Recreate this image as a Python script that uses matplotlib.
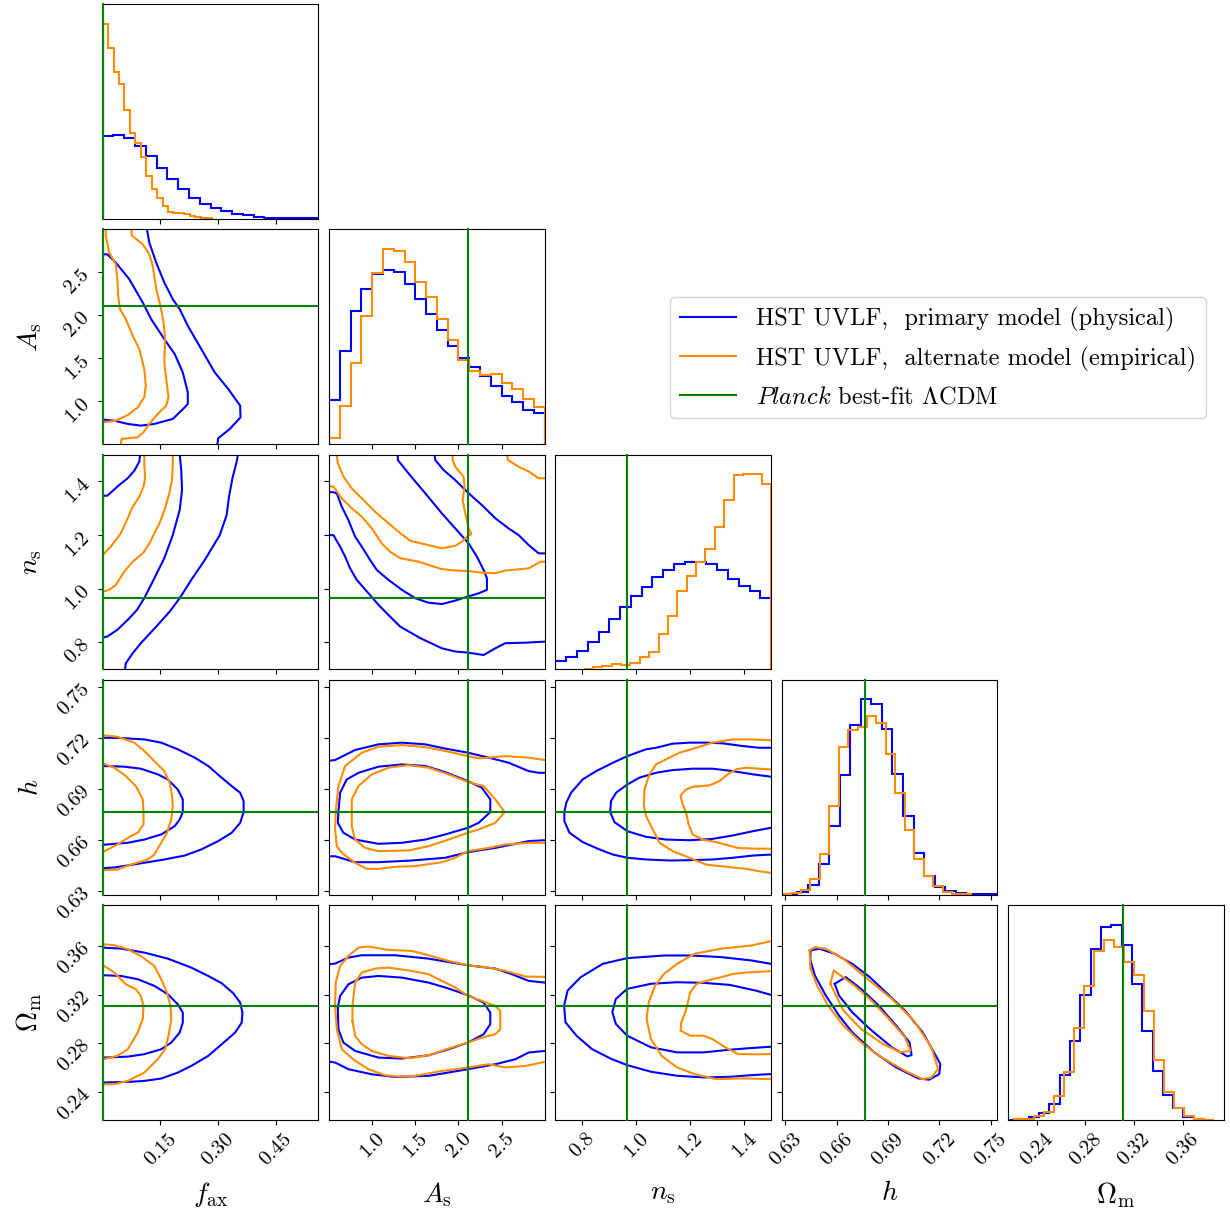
import matplotlib
matplotlib.use("Agg")
from matplotlib import pyplot as plt
from matplotlib.lines import Line2D
from matplotlib.ticker import FormatStrFormatter
import numpy as np

plt.rcParams['font.family'] = 'serif'
plt.rcParams['font.serif'] = ['cmr10']
plt.rcParams['mathtext.fontset'] = 'cm'
plt.rcParams['axes.formatter.use_mathtext'] = True

# parameters: f_ax, A_s, n_s, h, Omega_m
labels = [r'$f_{\rm ax}$', r'$A_{\rm s}$', r'$n_{\rm s}$', r'$h$', r'$\Omega_{\rm m}$']
limits = [(0.0, 0.56), (0.5, 3.0), (0.7, 1.5), (0.628, 0.754), (0.2166, 0.394)]
ticks = [[0.15, 0.30, 0.45], [1.0, 1.5, 2.0, 2.5], [0.8, 1.0, 1.2, 1.4],
         [0.63, 0.66, 0.69, 0.72, 0.75], [0.24, 0.28, 0.32, 0.36]]
tick_fmt = ['%.2f', '%.1f', '%.1f', '%.2f', '%.2f']
planck = [0.0, 2.105, 0.9649, 0.6766, 0.3111]

col_phys = 'blue'
col_alt = 'darkorange'
col_planck = 'green'

# 1D marginals (20 bins each, range = sample min/max)
range_phys = [(0.0, 0.56), (0.5, 3.0), (0.7, 1.5), (0.6309, 0.7544), (0.2166, 0.3862)]
range_alt = [(0.0, 0.2826), (0.5, 3.0), (0.804, 1.5), (0.628, 0.7386), (0.2213, 0.3857)]

hist_phys_fax = [250, 253, 242, 217, 188, 151, 120, 90, 61, 44, 31, 22, 15, 10, 5, 3, 1, 1, 0.5, 0.5]
hist_alt_fax = [587, 512, 442, 404, 327, 258, 228, 185, 129, 89, 63, 39, 19, 17, 18, 14, 7, 4, 3, 2]
hist_phys_As = [132, 279, 398, 462, 507, 519, 513, 477, 433, 388, 341, 293, 258, 229, 202, 172, 143, 124, 100, 92]
hist_alt_As = [18, 112, 242, 383, 512, 583, 578, 543, 485, 438, 373, 312, 252, 217, 205, 209, 181, 164, 134, 110]
hist_phys_ns = [25, 38, 55, 83, 111, 152, 187, 219, 248, 277, 299, 315, 321, 321, 315, 297, 272, 249, 234, 214]
hist_alt_ns = [2, 7, 11, 15, 13, 18, 36, 53, 105, 161, 234, 281, 323, 360, 428, 507, 582, 584, 585, 556]
hist_phys_h = [1, 7, 29, 92, 205, 359, 507, 585, 572, 495, 363, 235, 125, 55, 23, 10, 4, 2, 1, 0.5]
hist_alt_h = [1, 5, 15, 48, 123, 267, 443, 493, 502, 535, 515, 421, 305, 195, 108, 55, 25, 8, 3, 1]
hist_phys_Om = [0.5, 3, 8, 20, 47, 135, 237, 375, 512, 577, 584, 524, 407, 267, 147, 75, 37, 10, 4, 1]
hist_alt_Om = [2, 4, 12, 25, 72, 142, 274, 400, 507, 539, 519, 472, 435, 325, 179, 82, 37, 12, 4, 1]

hist_phys = [hist_phys_fax, hist_phys_As, hist_phys_ns, hist_phys_h, hist_phys_Om]
hist_alt = [hist_alt_fax, hist_alt_As, hist_alt_ns, hist_alt_h, hist_alt_Om]

# 2D credible contours (68% / 95%), traced as (x, y) polylines
fax_As_phys = [
    [(0.115, 3.0), (0.121, 2.845), (0.139, 2.612), (0.160, 2.380), (0.182, 2.186), (0.200, 2.070),
     (0.221, 1.876), (0.256, 1.605), (0.291, 1.333), (0.326, 1.140), (0.357, 0.946), (0.358, 0.810),
     (0.330, 0.674), (0.300, 0.566), (0.298, 0.5)],
    [(0, 2.709), (0.012, 2.709), (0.034, 2.612), (0.069, 2.419), (0.104, 2.147), (0.126, 1.953),
     (0.160, 1.721), (0.187, 1.547), (0.208, 1.333), (0.221, 1.101), (0.221, 0.965), (0.213, 0.926),
     (0.182, 0.791), (0.134, 0.733), (0.099, 0.713), (0.065, 0.733), (0.030, 0.771), (0, 0.783)]]
fax_As_alt = [
    [(0.075, 3.0), (0.075, 2.930), (0.104, 2.826), (0.121, 2.709), (0.130, 2.574), (0.139, 2.302),
     (0.150, 2.109), (0.158, 1.915), (0.162, 1.721), (0.160, 1.450), (0.166, 1.217), (0.171, 1.043),
     (0.165, 0.946), (0.143, 0.849), (0.121, 0.733), (0.106, 0.636), (0.091, 0.578), (0.049, 0.558),
     (0.047, 0.5)],
    [(0.008, 3.0), (0.008, 2.922), (0.017, 2.729), (0.034, 2.593), (0.038, 2.419), (0.040, 2.225),
     (0.045, 2.070), (0.060, 1.953), (0.078, 1.760), (0.095, 1.605), (0.108, 1.372), (0.112, 1.178),
     (0.108, 1.043), (0.091, 0.926), (0.065, 0.837), (0.034, 0.771), (0, 0.752)]]

fax_ns_phys = [
    [(0, 1.347), (0.012, 1.347), (0.043, 1.387), (0.065, 1.412), (0.082, 1.440), (0.095, 1.474), (0.097, 1.5)],
    [(0, 0.818), (0.012, 0.822), (0.038, 0.847), (0.065, 0.884), (0.089, 0.921), (0.108, 0.965),
     (0.134, 1.039), (0.160, 1.114), (0.182, 1.200), (0.200, 1.294), (0.206, 1.368), (0.204, 1.443),
     (0.200, 1.5)],
    [(0.058, 0.7), (0.060, 0.722), (0.078, 0.760), (0.099, 0.797), (0.139, 0.859), (0.174, 0.915),
     (0.200, 0.965), (0.230, 1.033), (0.265, 1.107), (0.304, 1.200), (0.322, 1.275), (0.328, 1.343),
     (0.337, 1.412), (0.348, 1.474), (0.351, 1.5)]]
fax_ns_alt = [
    [(0, 0.989), (0.017, 0.996), (0.034, 1.014), (0.056, 1.064), (0.078, 1.101), (0.106, 1.135),
     (0.124, 1.176), (0.136, 1.213), (0.147, 1.242), (0.162, 1.300), (0.174, 1.362), (0.180, 1.406),
     (0.182, 1.468), (0.182, 1.5)],
    [(0, 1.126), (0.021, 1.157), (0.047, 1.207), (0.065, 1.263), (0.078, 1.306), (0.095, 1.343),
     (0.106, 1.381), (0.110, 1.412), (0.108, 1.468), (0.108, 1.5)]]

As_ns_phys = [
    [(1.723, 1.5), (1.731, 1.480), (1.827, 1.443), (1.963, 1.405), (2.118, 1.356), (2.272, 1.312),
     (2.427, 1.263), (2.582, 1.225), (2.698, 1.200), (2.814, 1.163), (2.930, 1.132), (3.0, 1.132)],
    [(1.297, 1.5), (1.297, 1.480), (1.421, 1.430), (1.615, 1.356), (1.808, 1.281), (1.963, 1.225),
     (2.118, 1.169), (2.214, 1.120), (2.292, 1.070), (2.330, 1.039), (2.330, 0.996), (2.234, 0.983),
     (2.110, 0.971), (1.963, 0.956), (1.808, 0.943), (1.653, 0.948), (1.498, 0.965), (1.344, 0.996),
     (1.189, 1.033), (1.053, 1.070), (0.976, 1.107), (0.879, 1.157), (0.802, 1.194), (0.724, 1.256),
     (0.647, 1.306), (0.589, 1.356), (0.550, 1.360), (0.5, 1.360)],
    [(0.5, 1.200), (0.550, 1.200), (0.628, 1.157), (0.686, 1.120), (0.744, 1.076), (0.821, 1.033),
     (0.957, 0.983), (1.073, 0.940), (1.189, 0.902), (1.324, 0.859), (1.557, 0.816), (1.808, 0.778),
     (1.963, 0.766), (2.110, 0.762), (2.292, 0.753), (2.427, 0.778), (2.543, 0.797), (2.776, 0.799),
     (3.0, 0.803)]]
As_ns_alt = [
    [(0.589, 1.5), (0.601, 1.468), (0.666, 1.418), (0.763, 1.374), (0.879, 1.337), (1.034, 1.287),
     (1.189, 1.244), (1.305, 1.213), (1.440, 1.179), (1.595, 1.167), (1.808, 1.151), (1.963, 1.160),
     (2.040, 1.176), (2.098, 1.194), (2.149, 1.204), (2.118, 1.225), (2.079, 1.281), (2.048, 1.331),
     (2.071, 1.381), (2.060, 1.418), (1.963, 1.455), (1.932, 1.480), (1.932, 1.5)],
    [(0.5, 1.383), (0.550, 1.381), (0.647, 1.337), (0.763, 1.300), (0.879, 1.269), (0.995, 1.225),
     (1.111, 1.169), (1.208, 1.138), (1.324, 1.114), (1.537, 1.101), (1.653, 1.089), (1.808, 1.073),
     (1.963, 1.068), (2.110, 1.066), (2.272, 1.060), (2.427, 1.058), (2.543, 1.068), (2.814, 1.076),
     (2.950, 1.101), (3.0, 1.101)],
    [(2.563, 1.5), (2.574, 1.480), (2.698, 1.455), (2.814, 1.437), (2.930, 1.412), (3.0, 1.412)]]

fax_h_phys = [
    [(0, 0.7201), (0.047, 0.7199), (0.108, 0.7191), (0.152, 0.7172), (0.195, 0.7133), (0.239, 0.7084),
     (0.274, 0.7035), (0.309, 0.6966), (0.335, 0.6917), (0.357, 0.6878), (0.366, 0.6829), (0.366, 0.6764),
     (0.357, 0.6701), (0.335, 0.6643), (0.300, 0.6594), (0.256, 0.6545), (0.213, 0.6509), (0.160, 0.6486),
     (0.117, 0.6470), (0.065, 0.6451), (0.030, 0.6439), (0, 0.6435)],
    [(0, 0.7035), (0.056, 0.7031), (0.099, 0.7019), (0.143, 0.6986), (0.169, 0.6956), (0.195, 0.6897),
     (0.208, 0.6839), (0.208, 0.6764), (0.200, 0.6721), (0.187, 0.6682), (0.152, 0.6633), (0.108, 0.6603),
     (0.065, 0.6584), (0, 0.6572)]]
fax_h_alt = [
    [(0, 0.7215), (0.038, 0.7207), (0.082, 0.7172), (0.108, 0.7123), (0.134, 0.7064), (0.160, 0.7005),
     (0.174, 0.6937), (0.180, 0.6858), (0.182, 0.6799), (0.178, 0.6721), (0.167, 0.6643), (0.152, 0.6584),
     (0.134, 0.6515), (0.117, 0.6486), (0.073, 0.6456), (0.038, 0.6427), (0, 0.6423)],
    [(0, 0.7050), (0.030, 0.7025), (0.060, 0.6976), (0.086, 0.6917), (0.104, 0.6839), (0.106, 0.6764),
     (0.106, 0.6692), (0.091, 0.6643), (0.073, 0.6623), (0.038, 0.6574), (0, 0.6529)]]

As_h_phys = [
    [(0.5, 0.7066), (0.570, 0.7070), (0.802, 0.7129), (1.073, 0.7162), (1.344, 0.7172), (1.615, 0.7162),
     (1.847, 0.7137), (2.110, 0.7113), (2.350, 0.7084), (2.582, 0.7054), (2.814, 0.7005), (2.930, 0.6995),
     (3.0, 0.6995)],
    [(0.5, 0.6505), (0.570, 0.6505), (0.802, 0.6470), (1.073, 0.6470), (1.460, 0.6480), (1.847, 0.6496),
     (2.110, 0.6529), (2.427, 0.6554), (2.814, 0.6594), (3.0, 0.6599)],
    [(0.608, 0.6764), (0.628, 0.6878), (0.705, 0.6956), (0.841, 0.6995), (1.073, 0.7031), (1.344, 0.7044),
     (1.615, 0.7035), (1.847, 0.6999), (2.110, 0.6946), (2.272, 0.6907), (2.369, 0.6839), (2.369, 0.6764),
     (2.234, 0.6701), (2.110, 0.6672), (1.847, 0.6633), (1.615, 0.6603), (1.344, 0.6584), (1.073, 0.6578),
     (0.802, 0.6603), (0.666, 0.6643), (0.601, 0.6701), (0.608, 0.6764)]]
As_h_alt = [
    [(3.0, 0.7070), (2.814, 0.7084), (2.543, 0.7093), (2.350, 0.7084), (2.234, 0.7080), (2.110, 0.7093),
     (1.847, 0.7123), (1.615, 0.7146), (1.344, 0.7158), (1.073, 0.7148), (0.879, 0.7113), (0.686, 0.7035),
     (0.608, 0.6917), (0.577, 0.6764), (0.570, 0.6662), (0.589, 0.6564), (0.647, 0.6525), (0.802, 0.6466),
     (0.937, 0.6431), (1.073, 0.6431), (1.266, 0.6443), (1.498, 0.6447), (1.808, 0.6470), (1.963, 0.6496),
     (2.110, 0.6535), (2.350, 0.6554), (2.543, 0.6574), (2.814, 0.6584), (3.0, 0.6584)],
    [(0.763, 0.6764), (0.763, 0.6839), (0.841, 0.6917), (0.995, 0.6986), (1.189, 0.7025), (1.421, 0.7040),
     (1.653, 0.7025), (1.885, 0.6986), (2.110, 0.6941), (2.292, 0.6917), (2.427, 0.6839), (2.536, 0.6764),
     (2.427, 0.6701), (2.234, 0.6662), (2.110, 0.6643), (1.885, 0.6603), (1.653, 0.6564), (1.421, 0.6539),
     (1.073, 0.6535), (0.918, 0.6554), (0.802, 0.6603), (0.763, 0.6682), (0.763, 0.6764)]]

ns_h_phys = [
    [(1.5, 0.7142), (1.456, 0.7142), (1.395, 0.7152), (1.320, 0.7168), (1.259, 0.7172), (1.197, 0.7172),
     (1.135, 0.7166), (1.073, 0.7142), (1.036, 0.7133), (0.967, 0.7093), (0.913, 0.7054), (0.851, 0.7005),
     (0.801, 0.6956), (0.758, 0.6878), (0.740, 0.6819), (0.733, 0.6764), (0.733, 0.6711), (0.752, 0.6643),
     (0.801, 0.6588), (0.863, 0.6545), (0.913, 0.6515), (0.967, 0.6496), (1.036, 0.6486), (1.123, 0.6480),
     (1.197, 0.6482), (1.283, 0.6486), (1.358, 0.6496), (1.432, 0.6509), (1.5, 0.6515)],
    [(1.5, 0.6972), (1.432, 0.6986), (1.358, 0.7005), (1.283, 0.7019), (1.209, 0.7019), (1.135, 0.7011),
     (1.073, 0.6995), (1.011, 0.6966), (0.967, 0.6927), (0.925, 0.6878), (0.906, 0.6829), (0.903, 0.6764),
     (0.919, 0.6705), (0.967, 0.6652), (1.036, 0.6619), (1.110, 0.6603), (1.197, 0.6599), (1.283, 0.6607),
     (1.358, 0.6627), (1.432, 0.6652), (1.5, 0.6672)]]
ns_h_alt = [
    [(1.5, 0.7186), (1.432, 0.7191), (1.358, 0.7191), (1.283, 0.7172), (1.222, 0.7142), (1.160, 0.7113),
     (1.110, 0.7074), (1.073, 0.7044), (1.049, 0.6986), (1.030, 0.6897), (1.028, 0.6803), (1.036, 0.6741),
     (1.061, 0.6662), (1.086, 0.6584), (1.135, 0.6535), (1.197, 0.6496), (1.259, 0.6456), (1.333, 0.6443),
     (1.407, 0.6431), (1.456, 0.6417), (1.5, 0.6407)],
    [(1.5, 0.7015), (1.456, 0.7019), (1.407, 0.7025), (1.370, 0.7015), (1.339, 0.6986), (1.308, 0.6946),
     (1.271, 0.6921), (1.209, 0.6913), (1.185, 0.6897), (1.164, 0.6862), (1.172, 0.6809), (1.185, 0.6760),
     (1.194, 0.6692), (1.209, 0.6633), (1.246, 0.6603), (1.296, 0.6588), (1.376, 0.6554), (1.432, 0.6550),
     (1.5, 0.6549)]]

fax_Om_phys = [
    [(0, 0.3590), (0.047, 0.3582), (0.108, 0.3549), (0.169, 0.3499), (0.230, 0.3425), (0.274, 0.3356),
     (0.309, 0.3296), (0.339, 0.3213), (0.357, 0.3136), (0.363, 0.3053), (0.361, 0.2970), (0.344, 0.2888),
     (0.309, 0.2791), (0.274, 0.2695), (0.230, 0.2612), (0.195, 0.2557), (0.152, 0.2508), (0.108, 0.2488),
     (0.065, 0.2480), (0, 0.2475)],
    [(0, 0.3362), (0.047, 0.3356), (0.091, 0.3329), (0.134, 0.3274), (0.169, 0.3205), (0.195, 0.3122),
     (0.208, 0.3053), (0.208, 0.2970), (0.200, 0.2888), (0.178, 0.2805), (0.152, 0.2750), (0.108, 0.2709),
     (0.065, 0.2689), (0, 0.2681)]]
fax_Om_alt = [
    [(0, 0.3618), (0.030, 0.3610), (0.065, 0.3577), (0.099, 0.3521), (0.134, 0.3439), (0.152, 0.3329),
     (0.167, 0.3218), (0.176, 0.3108), (0.178, 0.2998), (0.171, 0.2860), (0.162, 0.2750), (0.143, 0.2667),
     (0.108, 0.2557), (0.065, 0.2488), (0.030, 0.2461), (0, 0.2461)],
    [(0, 0.3447), (0.030, 0.3384), (0.060, 0.3287), (0.086, 0.3246), (0.099, 0.3191), (0.106, 0.3108),
     (0.104, 0.2998), (0.091, 0.2888), (0.065, 0.2750), (0.038, 0.2695), (0, 0.2667)]]

As_Om_phys = [
    [(0.5, 0.3453), (0.570, 0.3458), (0.724, 0.3508), (0.879, 0.3527), (1.266, 0.3527), (1.653, 0.3499),
     (2.110, 0.3444), (2.427, 0.3417), (2.621, 0.3370), (2.814, 0.3315), (3.0, 0.3301)],
    [(0.5, 0.2648), (0.570, 0.2640), (0.724, 0.2585), (0.995, 0.2543), (1.266, 0.2521), (1.653, 0.2530),
     (2.110, 0.2585), (2.427, 0.2626), (2.659, 0.2667), (2.814, 0.2723), (3.0, 0.2736)],
    [(0.601, 0.3094), (0.628, 0.3191), (0.724, 0.3287), (0.879, 0.3342), (1.073, 0.3356), (1.344, 0.3342),
     (1.653, 0.3301), (1.885, 0.3252), (2.110, 0.3196), (2.292, 0.3136), (2.369, 0.3053), (2.369, 0.2957),
     (2.292, 0.2874), (2.110, 0.2805), (1.885, 0.2750), (1.653, 0.2700), (1.344, 0.2673), (1.073, 0.2681),
     (0.802, 0.2736), (0.666, 0.2805), (0.608, 0.2915), (0.601, 0.3094)]]
As_Om_alt = [
    [(3.0, 0.3348), (2.776, 0.3351), (2.543, 0.3398), (2.350, 0.3425), (2.110, 0.3444), (1.885, 0.3480),
     (1.653, 0.3527), (1.460, 0.3563), (1.189, 0.3571), (0.957, 0.3599), (0.841, 0.3590), (0.724, 0.3521),
     (0.628, 0.3439), (0.577, 0.3301), (0.570, 0.3108), (0.589, 0.2915), (0.647, 0.2750), (0.802, 0.2654),
     (0.957, 0.2585), (1.150, 0.2535), (1.305, 0.2524), (1.498, 0.2530), (1.808, 0.2571), (1.963, 0.2585),
     (2.110, 0.2599), (2.350, 0.2626), (2.543, 0.2599), (2.776, 0.2612), (3.0, 0.2645)],
    [(0.771, 0.2984), (0.771, 0.3108), (0.802, 0.3301), (0.879, 0.3384), (1.034, 0.3417), (1.189, 0.3425),
     (1.460, 0.3397), (1.653, 0.3370), (1.808, 0.3315), (1.963, 0.3260), (2.110, 0.3191), (2.272, 0.3150),
     (2.427, 0.3108), (2.485, 0.3067), (2.485, 0.2915), (2.427, 0.2874), (2.272, 0.2846), (2.110, 0.2805),
     (1.885, 0.2756), (1.653, 0.2700), (1.421, 0.2676), (1.189, 0.2695), (0.995, 0.2736), (0.879, 0.2791),
     (0.802, 0.2860), (0.771, 0.2984)]]

ns_Om_phys = [
    [(1.5, 0.3456), (1.427, 0.3484), (1.314, 0.3512), (1.200, 0.3525), (1.103, 0.3525), (0.966, 0.3503),
     (0.875, 0.3456), (0.794, 0.3346), (0.745, 0.3235), (0.732, 0.3111), (0.737, 0.2973), (0.778, 0.2862),
     (0.835, 0.2752), (0.908, 0.2669), (0.966, 0.2619), (1.054, 0.2564), (1.151, 0.2531), (1.249, 0.2517),
     (1.346, 0.2522), (1.427, 0.2536), (1.5, 0.2545)],
    [(1.5, 0.3199), (1.443, 0.3235), (1.346, 0.3282), (1.249, 0.3299), (1.151, 0.3304), (1.054, 0.3291),
     (0.966, 0.3249), (0.924, 0.3166), (0.911, 0.3056), (0.924, 0.2959), (0.966, 0.2862), (1.054, 0.2766),
     (1.151, 0.2724), (1.249, 0.2724), (1.346, 0.2746), (1.427, 0.2760), (1.5, 0.2771)]]
ns_Om_alt = [
    [(1.5, 0.3644), (1.427, 0.3608), (1.314, 0.3581), (1.216, 0.3539), (1.151, 0.3456), (1.103, 0.3373),
     (1.070, 0.3277), (1.046, 0.3139), (1.038, 0.3000), (1.054, 0.2835), (1.094, 0.2696), (1.151, 0.2600),
     (1.216, 0.2545), (1.297, 0.2503), (1.395, 0.2509), (1.5, 0.2503)],
    [(1.5, 0.3396), (1.427, 0.3387), (1.362, 0.3374), (1.314, 0.3346), (1.265, 0.3318), (1.224, 0.3291),
     (1.200, 0.3221), (1.184, 0.3070), (1.167, 0.2973), (1.164, 0.2904), (1.200, 0.2862), (1.249, 0.2862),
     (1.281, 0.2835), (1.330, 0.2766), (1.378, 0.2710), (1.443, 0.2708), (1.5, 0.2710)]]

h_Om_phys = [
    [(0.6447, 0.3567), (0.6499, 0.3581), (0.6589, 0.3539), (0.6691, 0.3456), (0.6794, 0.3346),
     (0.6897, 0.3208), (0.7000, 0.3069), (0.7103, 0.2890), (0.7180, 0.2696), (0.7206, 0.2627),
     (0.7200, 0.2545), (0.7141, 0.2498), (0.7077, 0.2509), (0.6948, 0.2600), (0.6820, 0.2724),
     (0.6691, 0.2890), (0.6614, 0.3028), (0.6537, 0.3194), (0.6473, 0.3360), (0.6447, 0.3484),
     (0.6447, 0.3567)],
    [(0.6589, 0.3291), (0.6653, 0.3346), (0.6743, 0.3249), (0.6846, 0.3111), (0.6948, 0.2945),
     (0.7026, 0.2807), (0.7038, 0.2702), (0.7013, 0.2691), (0.6923, 0.2766), (0.6794, 0.2918),
     (0.6691, 0.3056), (0.6614, 0.3194), (0.6589, 0.3291)]]
h_Om_alt = [
    [(0.6442, 0.3567), (0.6473, 0.3594), (0.6537, 0.3581), (0.6640, 0.3498), (0.6768, 0.3346),
     (0.6923, 0.3166), (0.7051, 0.2987), (0.7154, 0.2766), (0.7193, 0.2586), (0.7154, 0.2517),
     (0.7103, 0.2503), (0.7000, 0.2572), (0.6846, 0.2696), (0.6743, 0.2807), (0.6640, 0.2945),
     (0.6550, 0.3111), (0.6486, 0.3277), (0.6447, 0.3415), (0.6442, 0.3567)],
    [(0.6563, 0.3291), (0.6583, 0.3401), (0.6691, 0.3291), (0.6794, 0.3166), (0.6897, 0.3014),
     (0.7000, 0.2848), (0.7031, 0.2738), (0.6974, 0.2724), (0.6871, 0.2793), (0.6743, 0.2918),
     (0.6640, 0.3070), (0.6563, 0.3291)]]

contours = {
    (1, 0): (fax_As_phys, fax_As_alt),
    (2, 0): (fax_ns_phys, fax_ns_alt),
    (2, 1): (As_ns_phys, As_ns_alt),
    (3, 0): (fax_h_phys, fax_h_alt),
    (3, 1): (As_h_phys, As_h_alt),
    (3, 2): (ns_h_phys, ns_h_alt),
    (4, 0): (fax_Om_phys, fax_Om_alt),
    (4, 1): (As_Om_phys, As_Om_alt),
    (4, 2): (ns_Om_phys, ns_Om_alt),
    (4, 3): (h_Om_phys, h_Om_alt),
}

lw = 1.5
n = len(labels)
fig, axes = plt.subplots(n, n, figsize=(12.3, 12.12), dpi=100)
fig.subplots_adjust(left=0.0835, right=0.995, bottom=0.076, top=0.9967, wspace=0.05, hspace=0.05)

for i in range(n):
    for j in range(n):
        ax = axes[i, j]
        if j > i:
            ax.set_axis_off()
            continue

        ax.set_xlim(limits[j])
        ax.set_xticks(ticks[j])
        ax.xaxis.set_major_formatter(FormatStrFormatter(tick_fmt[j]))

        if i == j:
            # marginal histograms
            e1 = np.linspace(range_phys[i][0], range_phys[i][1], len(hist_phys[i]) + 1)
            e2 = np.linspace(range_alt[i][0], range_alt[i][1], len(hist_alt[i]) + 1)
            ax.stairs(hist_phys[i], e1, color=col_phys, lw=lw)
            ax.stairs(hist_alt[i], e2, color=col_alt, lw=lw)
            ax.set_ylim(0, 1.1 * max(max(hist_phys[i]), max(hist_alt[i])))
            ax.set_yticks([])
            ax.axvline(planck[i], color=col_planck, lw=lw, zorder=3, clip_on=False)
        else:
            phys, alt = contours[(i, j)]
            for pts in phys:
                xs, ys = zip(*pts)
                ax.plot(xs, ys, color=col_phys, lw=lw)
            for pts in alt:
                xs, ys = zip(*pts)
                ax.plot(xs, ys, color=col_alt, lw=lw)
            ax.set_ylim(limits[i])
            ax.set_yticks(ticks[i])
            ax.yaxis.set_major_formatter(FormatStrFormatter(tick_fmt[i]))
            ax.axvline(planck[j], color=col_planck, lw=lw, zorder=3, clip_on=False)
            ax.axhline(planck[i], color=col_planck, lw=lw, zorder=3)
            if j == 0:
                for t in ax.get_yticklabels():
                    t.set_rotation(45)
                    t.set_fontsize(15)
                ax.set_ylabel(labels[i], fontsize=20)
                ax.yaxis.set_label_coords(-0.27, 0.5)
            else:
                ax.set_yticklabels([])

        if i == n - 1:
            for t in ax.get_xticklabels():
                t.set_rotation(45)
                t.set_fontsize(15)
            ax.set_xlabel(labels[j], fontsize=20)
            ax.xaxis.set_label_coords(0.5, -0.28)
        else:
            ax.set_xticklabels([])

handles = [Line2D([], [], color=col_phys, lw=lw),
           Line2D([], [], color=col_alt, lw=lw),
           Line2D([], [], color=col_planck, lw=lw)]
legend_labels = [r'HST UVLF,  primary model (physical)',
                 r'HST UVLF,  alternate model (empirical)',
                 r'$\mathit{Planck}$ best-fit $\Lambda$CDM']
fig.legend(handles, legend_labels, loc='upper left', bbox_to_anchor=(0.545, 0.755),
           borderaxespad=0, fontsize=17.6, handlelength=2.3, labelspacing=0.6)

fig.savefig('out.png', dpi=100)
